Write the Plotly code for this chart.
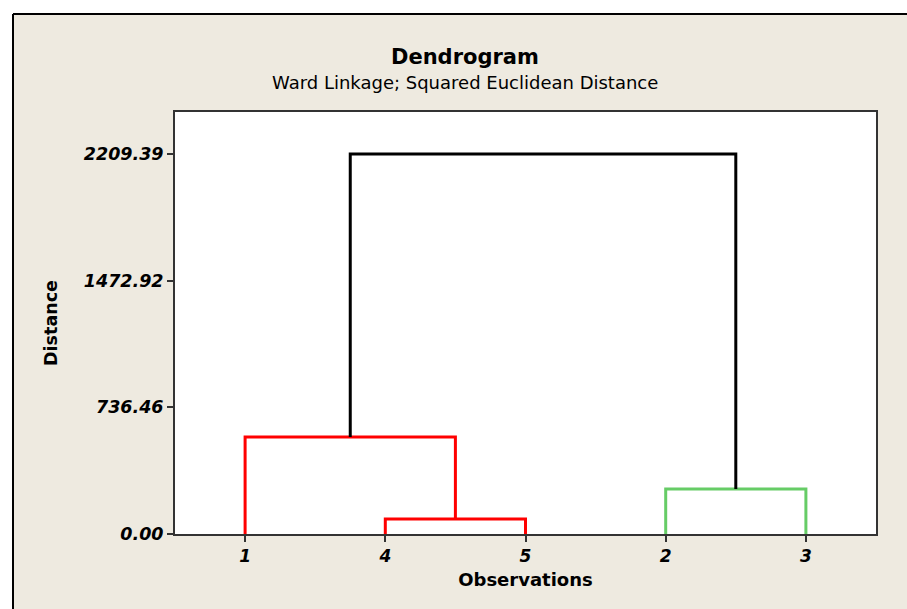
import plotly.graph_objects as go

# ---- data ----
leaf_labels = ["1", "4", "5", "2", "3"]          # leaf order on x-axis
# merges: (left cluster id, right cluster id, distance, colour)
# leaf ids 0..4 correspond to leaf_labels order; new clusters get ids 5,6,...
merge_left = [1, 3, 0, 6]
merge_right = [2, 4, 5, 7]
merge_height = [87.0, 262.0, 564.0, 2209.39]
merge_color = ["#FF0000", "#66CC66", "#FF0000", "#000000"]
y_tick_vals = [0.00, 736.46, 1472.92, 2209.39]
y_tick_text = ["0.00", "736.46", "1472.92", "2209.39"]

W, H = 907, 609
L, R, T, B = 175, 31, 112, 75
pw, ph = W - L - R, H - T - B

BEIGE = "#EEEAE0"
FONT = "DejaVu Sans"

# cluster positions (x) and heights (y)
pos = {i: i + 1 for i in range(len(leaf_labels))}
hgt = {i: 0.0 for i in range(len(leaf_labels))}

fig = go.Figure()
nid = len(leaf_labels)
for a, b, h, c in zip(merge_left, merge_right, merge_height, merge_color):
    xa, xb = pos[a], pos[b]
    fig.add_trace(go.Scatter(
        x=[xa, xa, xb, xb], y=[hgt[a], h, h, hgt[b]],
        mode="lines", line=dict(color=c, width=3),
        hoverinfo="skip", showlegend=False))
    pos[nid] = (xa + xb) / 2
    hgt[nid] = h
    nid += 1

ymax = 2209.39 * (ph / (534 - 154))

fig.update_layout(
    width=W, height=H,
    margin=dict(l=L, r=R, t=T, b=B),
    paper_bgcolor=BEIGE, plot_bgcolor="white",
    font=dict(family=FONT, color="black"),
    xaxis=dict(range=[0.5, 5.5], tickvals=list(range(1, 6)), ticktext=leaf_labels,
               showgrid=False, zeroline=False, showline=True, mirror=True,
               linecolor="#333333", linewidth=2, ticks="outside", ticklen=6,
               tickcolor="#333333", tickwidth=1.5,
               tickfont=dict(family=FONT, size=17, color="black", weight="bold", style="italic"),
               title=dict(text="<b>Observations</b>", font=dict(size=18), standoff=8)),
    yaxis=dict(range=[0, ymax], tickvals=y_tick_vals, ticktext=y_tick_text,
               showgrid=False, zeroline=False, showline=True, mirror=True,
               linecolor="#333333", linewidth=2, ticks="outside", ticklen=6,
               tickcolor="#333333", tickwidth=1.5,
               tickfont=dict(family=FONT, size=17.5, color="black", weight="bold", style="italic"),
               title=dict(text="<b>Distance</b>", font=dict(size=17.5), standoff=22)),
)

def px(x):
    return (x - L) / pw

def py(y):
    return (H - B - y) / ph

fig.add_annotation(text="<b>Dendrogram</b>", x=px(465), y=py(57), xref="paper", yref="paper",
                   showarrow=False, font=dict(size=21, family=FONT), xanchor="center", yanchor="middle")
fig.add_annotation(text="Ward Linkage; Squared Euclidean Distance", x=px(465), y=py(83),
                   xref="paper", yref="paper", showarrow=False,
                   font=dict(size=18, family=FONT), xanchor="center", yanchor="middle")

# outer white strips and black frame lines
fig.add_shape(type="rect", xref="paper", yref="paper", x0=px(0), x1=px(W), y0=py(0), y1=py(13),
              fillcolor="white", line_width=0, layer="above")
fig.add_shape(type="rect", xref="paper", yref="paper", x0=px(0), x1=px(13), y0=py(0), y1=py(H),
              fillcolor="white", line_width=0, layer="above")
fig.add_shape(type="line", xref="paper", yref="paper", x0=px(13), x1=px(W), y0=py(14), y1=py(14),
              line=dict(color="black", width=2), layer="above")
fig.add_shape(type="line", xref="paper", yref="paper", x0=px(13), x1=px(13), y0=py(14), y1=py(H),
              line=dict(color="black", width=2), layer="above")

fig.write_html("out.html")
